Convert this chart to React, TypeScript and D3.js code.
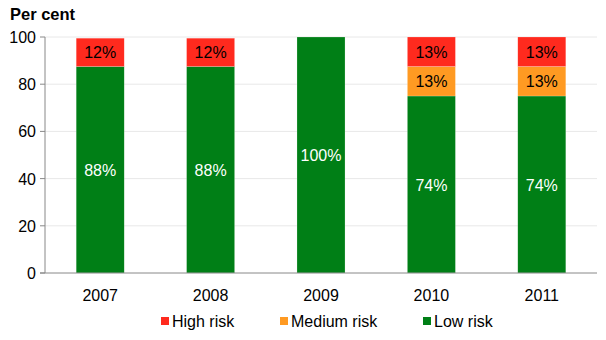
import React from "react";
import * as d3 from "d3";

const years = ["2007", "2008", "2009", "2010", "2011"];
const lowRisk = [87.5, 87.5, 100, 75, 75];
const mediumRisk = [0, 0, 0, 12.5, 12.5];
const highRisk = [12, 12, 0, 12.5, 12.5];
const lowLabels = ["88%", "88%", "100%", "74%", "74%"];
const mediumLabels = ["", "", "", "13%", "13%"];
const highLabels = ["12%", "12%", "", "13%", "13%"];
const yTicks = [0, 20, 40, 60, 80, 100];

const W = 606;
const H = 340;
const left = 45;
const right = 597;
const top = 37;
const bottom = 273;
const font = "'Liberation Sans', Arial, sans-serif";

const series = [
  { key: "low", name: "Low risk", values: lowRisk, labels: lowLabels, color: "#007F16", text: "#fff" },
  { key: "medium", name: "Medium risk", values: mediumRisk, labels: mediumLabels, color: "#FF9A22", text: "#000" },
  { key: "high", name: "High risk", values: highRisk, labels: highLabels, color: "#FF2A1E", text: "#000" },
];

export default function App() {
  const x = d3.scaleBand<string>().domain(years).range([left, right]).paddingInner(0.565).paddingOuter(0.2825);
  const y = d3.scaleLinear().domain([0, 100]).range([bottom, top]);
  const legendItems = [
    { name: "High risk", color: "#FF2A1E", x: 161 },
    { name: "Medium risk", color: "#FF9A22", x: 280 },
    { name: "Low risk", color: "#007F16", x: 423 },
  ];
  return (
    <svg width={W} height={H} style={{ position: "absolute", left: 0, top: 0 }} fontFamily={font}>
      <text x={10} y={20} fontSize={16.5} fontWeight="bold">Per cent</text>
      {yTicks.map((t) => (
        <g key={t}>
          {t > 0 && <line x1={left} x2={right} y1={y(t)} y2={y(t)} stroke="#e8e8e8" strokeWidth={1} />}
          <line x1={left - 5} x2={left} y1={y(t)} y2={y(t)} stroke="#888" />
          <text x={left - 9} y={y(t) + 6} fontSize={16} textAnchor="end">{t}</text>
        </g>
      ))}
      {years.map((yr, i) => {
        let base = 0;
        return (
          <g key={yr}>
            {series.map((s) => {
              const v = s.values[i];
              const y0 = base;
              const y1 = base + v;
              base = y1;
              if (v <= 0) return null;
              return (
                <g key={s.key}>
                  <rect x={x(yr)} width={x.bandwidth()} y={y(y1)} height={y(y0) - y(y1)} fill={s.color} stroke="#fff" strokeOpacity={0.4} strokeWidth={0.5} />
                  {s.labels[i] && (
                    <text x={(x(yr) as number) + x.bandwidth() / 2} y={(y(y0) + y(y1)) / 2 + 6} fontSize={16} textAnchor="middle" fill={s.text}>{s.labels[i]}</text>
                  )}
                </g>
              );
            })}
            <text x={(x(yr) as number) + x.bandwidth() / 2} y={bottom + 28} fontSize={16} textAnchor="middle">{yr}</text>
          </g>
        );
      })}
      <line x1={left} x2={left} y1={top} y2={bottom} stroke="#888" />
      <line x1={left - 5} x2={right} y1={bottom} y2={bottom} stroke="#888" />
      {legendItems.map((l) => (
        <g key={l.name}>
          <rect x={l.x} y={317} width={8} height={8} fill={l.color} />
          <text x={l.x + 11} y={327} fontSize={16}>{l.name}</text>
        </g>
      ))}
    </svg>
  );
}
